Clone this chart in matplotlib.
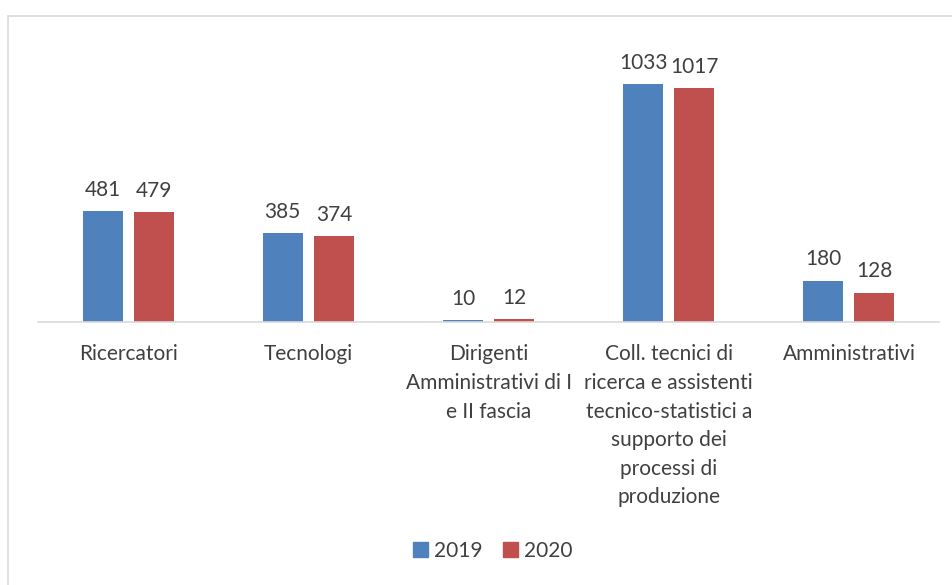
import numpy as np
import matplotlib.pyplot as plt
from matplotlib.patches import Rectangle, Patch

categories = [
    "Ricercatori",
    "Tecnologi",
    "Dirigenti\nAmministrativi di I\ne II fascia",
    "Coll. tecnici di\nricerca e assistenti\ntecnico-statistici a\nsupporto dei\nprocessi di\nproduzione",
    "Amministrativi",
]
values_2019 = [481, 385, 10, 1033, 180]
values_2020 = [479, 374, 12, 1017, 128]
series_names = ["2019", "2020"]

blue = "#4f81bd"
red = "#c0504d"
txt = "#404040"
plt.rcParams["font.family"] = ["Lato", "DejaVu Sans"]

W, H = 953, 585
fig = plt.figure(figsize=(W / 100, H / 100), dpi=100)

# chart frame (top and left edges show, the rest runs off the canvas)
fig.patches.append(Rectangle((8 / W, -0.05), 1.0, (H - 16) / H + 0.05,
                             transform=fig.transFigure, fill=False,
                             edgecolor="#d9d9d9", lw=1.2))

ax = fig.add_axes([38 / W, (H - 322) / H, 901 / W, 276.5 / H])
x = np.arange(len(categories))
w = 0.222
off = 0.142
b1 = ax.bar(x - off, values_2019, w, color=blue, label=series_names[0])
b2 = ax.bar(x + off, values_2020, w, color=red, label=series_names[1])

for bars, vals in ((b1, values_2019), (b2, values_2020)):
    for b, v in zip(bars, vals):
        ax.annotate(str(v), (b.get_x() + b.get_width() / 2, v),
                    xytext=(0, 8), textcoords="offset points",
                    ha="center", va="bottom", fontsize=15, color=txt)

ax.set_xlim(-0.5, len(categories) - 0.5)
ax.set_ylim(0, 1200)
ax.set_yticks([])
ax.set_xticks(x)
ax.set_xticklabels(categories, fontsize=15, color=txt, linespacing=1.54,
                   va="top")
ax.tick_params(axis="x", length=0, pad=16)
for s in ("top", "right", "left"):
    ax.spines[s].set_visible(False)
ax.spines["bottom"].set_color("#d9d9d9")
ax.spines["bottom"].set_linewidth(1.2)

handles = [Patch(color=blue), Patch(color=red)]
fig.legend(handles, series_names, loc="center", bbox_to_anchor=(493 / W, 1 - 551 / H),
           ncol=2, frameon=False, fontsize=15, labelcolor=txt,
           handlelength=0.7, handleheight=0.7, handletextpad=0.3, columnspacing=1.0)

fig.savefig("out.png", dpi=100)
